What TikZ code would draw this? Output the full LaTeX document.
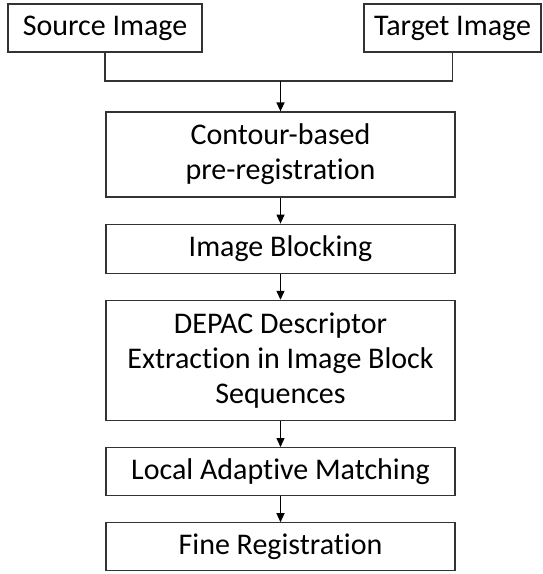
\documentclass[tikz,border=0pt]{standalone}
\usepackage{fontspec}
\setmainfont[Ligatures=NoCommon]{Carlito}
\usetikzlibrary{arrows.meta, positioning}

\begin{document}
\begin{tikzpicture}[
    x=1pt, y=1pt,
    font=\fontsize{30}{35}\selectfont,
    node distance=26pt,
    stage/.style={
        draw=black!80,
        line width=1.2pt,
        minimum width=349pt,
        minimum height=48pt,
        align=center,
        inner sep=0pt
    },
    input/.style={
        draw=black!80,
        line width=1.2pt,
        minimum height=48pt,
        inner sep=0pt
    },
    arrow/.style={
        -{Triangle[length=9pt,width=8pt]},
        line width=1.2pt
    }
]
\useasboundingbox (0,0) rectangle (542,-574);

% Inputs
\node[input, minimum width=194pt] (src) at (105,-28) {Source Image};
\node[input, minimum width=177pt] (tgt) at (452.5,-28) {Target Image};

% Main column
\node[stage, minimum height=85pt] (pre) at (280.5,-154.5) {Contour-based\\pre-registration};
\node[stage, minimum height=49pt, below=of pre] (block) {Image Blocking};
\node[stage, minimum height=120pt, below=of block] (depac) {DEPAC Descriptor\\Extraction in Image Block\\Sequences};
\node[stage, below=of depac] (match) {Local Adaptive Matching};
\node[stage, below=of match] (fine) {Fine Registration};

% Arrows
\coordinate (join) at (280.5,-81);
\draw[line width=1.2pt, black!80] (src.south) |- (join) -| (tgt.south);
\draw[arrow] (join) -- (pre);
\draw[arrow] (pre) -- (block);
\draw[arrow] (block) -- (depac);
\draw[arrow] (depac) -- (match);
\draw[arrow] (match) -- (fine);

\end{tikzpicture}
\end{document}
